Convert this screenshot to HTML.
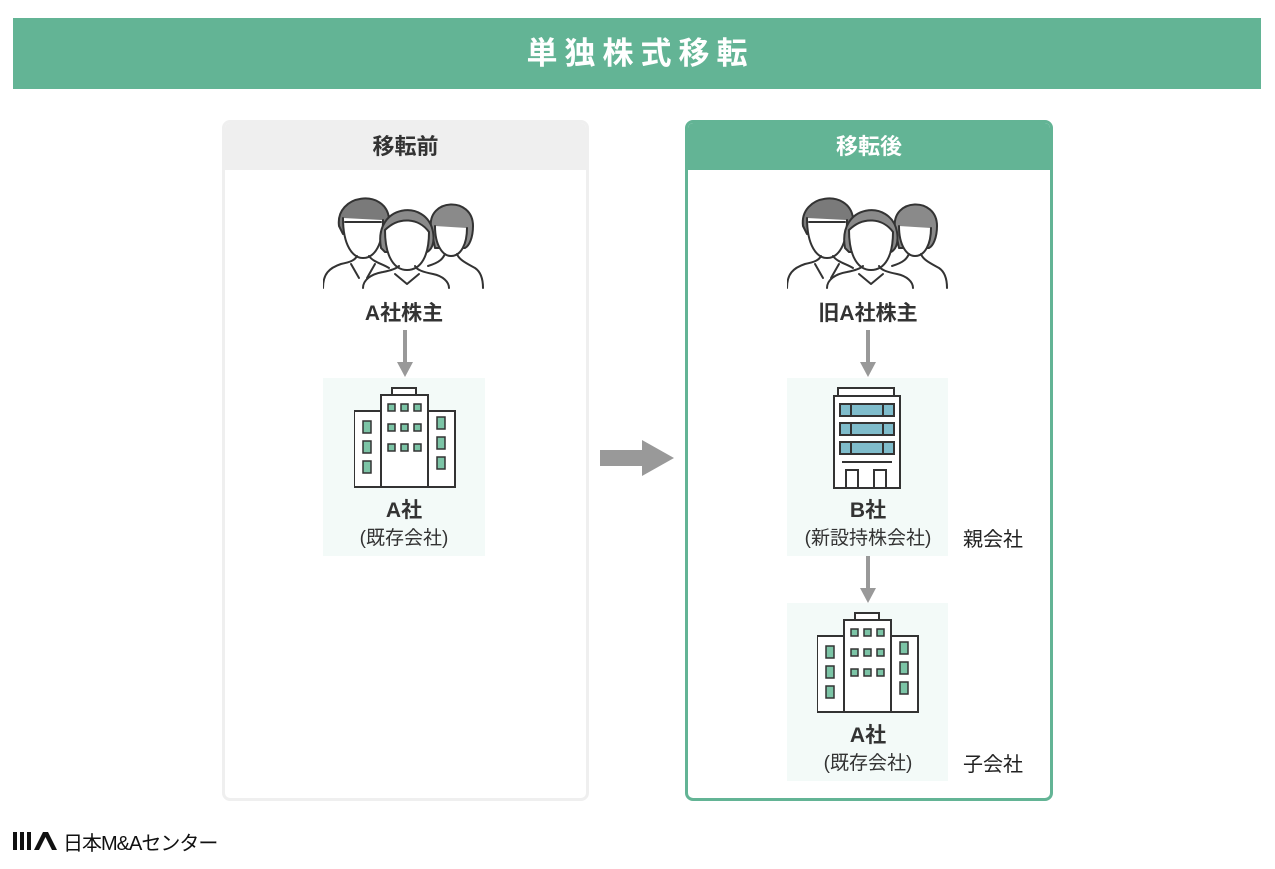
<!DOCTYPE html>
<html><head><meta charset="utf-8"><style>
body{margin:0;width:1275px;height:869px;background:#fff;position:relative;overflow:hidden;font-family:"Liberation Sans","Noto Sans CJK JP",sans-serif;color:#333}
.a{position:absolute}
.hdr{left:13px;top:18px;width:1248px;height:71px;background:#63b495;color:#fff;font-size:31px;font-weight:bold;text-align:center;line-height:71px;letter-spacing:7px;text-indent:7px}
.panel{box-sizing:border-box;border-radius:8px;overflow:hidden}
.ph{height:47px;line-height:47px;text-align:center;font-size:22px;font-weight:bold}
.lbl{text-align:center;font-size:21px;font-weight:bold;color:#333}
.sub{text-align:center;font-size:19px;color:#333}
.box{background:#f3faf8}
.side{font-size:20px;color:#222}
</style></head><body>
<svg width="0" height="0" style="position:absolute">
<defs>
<g id="ppl" fill="none" stroke="#333" stroke-width="2" stroke-linecap="round" stroke-linejoin="round">
 <path d="M108 40 C104 10 150 8 150 38 C150 50 146 58 142 60 L112 60 Z" fill="#8a8a8a"/>
 <path d="M112 38 C112 58 120 68 128 68 C138 68 144 56 144 40" fill="#fff"/>
 <path d="M105 78 C118 74 120 70 122 66 M134 66 C136 72 145 76 152 80 C158 84 160 92 160 100" fill="none"/>
 <path d="M16 38 C12 6 62 0 66 30 L64 46 L20 46 Z" fill="#7a7a7a"/>
 <path d="M20 30 C20 58 30 70 40 70 C52 70 60 56 60 32" fill="#fff"/>
 <path d="M22 34 L58 34" />
 <path d="M0 100 C0 86 6 80 18 76 C28 74 32 72 34 68 M46 68 C50 74 60 76 66 80"/>
 <path d="M28 76 L36 90 M52 76 L44 90"/>
 <path d="M58 60 C50 16 104 10 110 44 C112 56 108 62 104 64 L62 64 Z" fill="#8a8a8a"/>
 <path d="M62 42 C62 70 72 82 84 82 C98 82 106 68 106 44 C96 30 76 28 62 42 Z" fill="#fff"/>
 <path d="M40 100 C40 92 48 86 60 84 C70 82 74 80 76 78 M92 78 C94 82 100 84 110 86 C120 88 126 94 126 100" fill="#fff"/>
 <path d="M72 86 L84 96 L96 86"/>
</g>
<g id="bldA" stroke="#333" stroke-width="2" fill="none">
 <rect x="38" y="1" width="24" height="7" fill="#fff"/>
 <rect x="27" y="8" width="47" height="92" fill="#fff"/>
 <rect x="0" y="24" width="27" height="76" fill="#fff"/>
 <rect x="74" y="24" width="27" height="76" fill="#fff"/>
 <g fill="#7cc4a6" stroke-width="1.5">
  <rect x="34" y="17" width="7" height="7"/><rect x="47" y="17" width="7" height="7"/><rect x="60" y="17" width="7" height="7"/>
  <rect x="34" y="37" width="7" height="7"/><rect x="47" y="37" width="7" height="7"/><rect x="60" y="37" width="7" height="7"/>
  <rect x="34" y="57" width="7" height="7"/><rect x="47" y="57" width="7" height="7"/><rect x="60" y="57" width="7" height="7"/>
  <rect x="9" y="34" width="8" height="12"/><rect x="9" y="54" width="8" height="12"/><rect x="9" y="74" width="8" height="12"/>
  <rect x="83" y="30" width="8" height="12"/><rect x="83" y="50" width="8" height="12"/><rect x="83" y="70" width="8" height="12"/>
 </g>
</g>
</defs></svg>

<div class="a hdr">単独株式移転</div>

<div class="a panel" style="left:222px;top:120px;width:367px;height:681px;border:3px solid #efefef">
 <div class="ph" style="background:#efefef">移転前</div>
</div>
<div class="a panel" style="left:685px;top:120px;width:368px;height:681px;border:3px solid #63b495">
 <div class="ph" style="background:#63b495;color:#fff">移転後</div>
</div>

<svg class="a" style="left:323px;top:188px" width="162" height="102" viewBox="0 0 162 102"><use href="#ppl"/></svg>
<div class="a lbl" style="left:304px;top:297px;width:200px">A社株主</div>
<svg class="a" style="left:396px;top:330px" width="18" height="48"><rect x="7" y="0" width="4" height="34" fill="#999"/><path d="M1 32 L17 32 L9 47Z" fill="#999"/></svg>
<div class="a box" style="left:323px;top:378px;width:162px;height:178px"></div>
<svg class="a" style="left:354px;top:387px" width="102" height="102"><use href="#bldA"/></svg>
<div class="a lbl" style="left:304px;top:494px;width:200px">A社</div>
<div class="a sub" style="left:304px;top:523px;width:200px">(既存会社)</div>

<svg class="a" style="left:598px;top:438px" width="80" height="40"><rect x="2" y="12" width="44" height="16" fill="#999"/><path d="M44 2 L76 20 L44 38Z" fill="#999"/></svg>

<svg class="a" style="left:787px;top:188px" width="162" height="102" viewBox="0 0 162 102"><use href="#ppl"/></svg>
<div class="a lbl" style="left:768px;top:297px;width:200px">旧A社株主</div>
<svg class="a" style="left:859px;top:330px" width="18" height="48"><rect x="7" y="0" width="4" height="34" fill="#999"/><path d="M1 32 L17 32 L9 47Z" fill="#999"/></svg>
<div class="a box" style="left:787px;top:378px;width:161px;height:178px"></div>
<svg class="a" style="left:832px;top:386px" width="72" height="104" stroke="#333" stroke-width="2" fill="none">
 <rect x="6" y="2" width="56" height="8" fill="#fff"/>
 <rect x="2" y="10" width="66" height="92" fill="#fff"/>
 <g fill="#7fbccb"><rect x="8" y="18" width="54" height="12"/><rect x="8" y="37" width="54" height="12"/><rect x="8" y="56" width="54" height="12"/></g>
 <path d="M19 18v12M51 18v12M19 37v12M51 37v12M19 56v12M51 56v12"/>
 <path d="M10 76 L60 76"/>
 <path d="M14 102 V84 H26 V102 M42 102 V84 H54 V102"/>
</svg>
<div class="a lbl" style="left:768px;top:494px;width:200px">B社</div>
<div class="a sub" style="left:768px;top:523px;width:200px">(新設持株会社)</div>
<div class="a side" style="left:963px;top:523px">親会社</div>
<svg class="a" style="left:859px;top:556px" width="18" height="48"><rect x="7" y="0" width="4" height="34" fill="#999"/><path d="M1 32 L17 32 L9 47Z" fill="#999"/></svg>
<div class="a box" style="left:787px;top:603px;width:161px;height:178px"></div>
<svg class="a" style="left:817px;top:612px" width="102" height="102"><use href="#bldA"/></svg>
<div class="a lbl" style="left:768px;top:719px;width:200px">A社</div>
<div class="a sub" style="left:768px;top:748px;width:200px">(既存会社)</div>
<div class="a side" style="left:963px;top:748px">子会社</div>

<div class="a" style="left:13px;top:830px;height:22px;display:flex;align-items:center;gap:4px">
 <svg width="46" height="20"><rect x="0" y="1" width="4" height="18" fill="#111"/><rect x="7" y="1" width="4" height="18" fill="#111"/><rect x="14" y="1" width="4" height="18" fill="#111"/><path d="M21 19 L30 1 L35 1 L44 19 L39 19 L32.5 6 L26 19Z" fill="#111"/></svg>
 <span style="font-size:20px;color:#111;letter-spacing:-1px">日本M&amp;Aセンター</span>
</div>
</body></html>
